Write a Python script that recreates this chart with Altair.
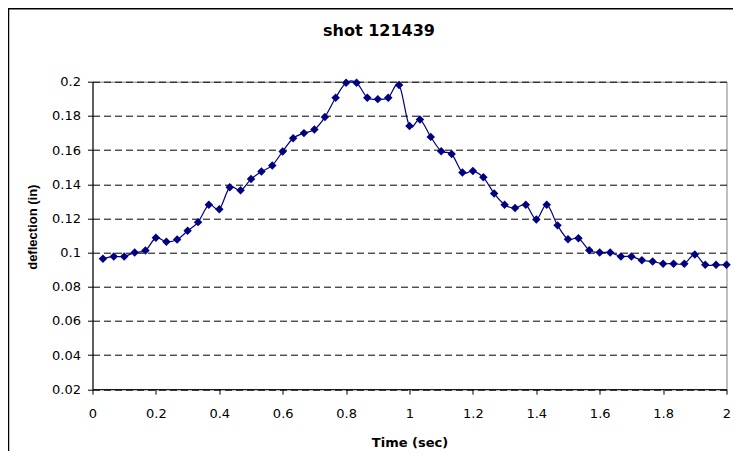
import altair as alt
import pandas as pd

TITLE = "shot 121439"
X_TITLE = "Time (sec)"
Y_TITLE = "deflection (in)"

time_s = [0.033, 0.067, 0.100, 0.133, 0.167, 0.200, 0.233, 0.267, 0.300, 0.333,
          0.367, 0.400, 0.433, 0.467, 0.500, 0.533, 0.567, 0.600, 0.633, 0.667,
          0.700, 0.733, 0.767, 0.800, 0.833, 0.867, 0.900, 0.933, 0.967, 1.000,
          1.033, 1.067, 1.100, 1.133, 1.167, 1.200, 1.233, 1.267, 1.300, 1.333,
          1.367, 1.400, 1.433, 1.467, 1.500, 1.533, 1.567, 1.600, 1.633, 1.667,
          1.700, 1.733, 1.767, 1.800, 1.833, 1.867, 1.900, 1.933, 1.967, 2.000]

deflection = [0.0963, 0.0977, 0.0977, 0.1000, 0.1012, 0.1086, 0.1063, 0.1076, 0.1127, 0.1178,
              0.1280, 0.1254, 0.1382, 0.1364, 0.1430, 0.1474, 0.1510, 0.1592, 0.1669, 0.1699,
              0.1720, 0.1793, 0.1906, 0.1994, 0.1994, 0.1906, 0.1898, 0.1906, 0.1981, 0.1740,
              0.1779, 0.1677, 0.1593, 0.1577, 0.1468, 0.1477, 0.1440, 0.1346, 0.1280, 0.1260,
              0.1280, 0.1194, 0.1280, 0.1159, 0.1078, 0.1084, 0.1014, 0.1000, 0.1000, 0.0977,
              0.0977, 0.0955, 0.0947, 0.0935, 0.0935, 0.0935, 0.0988, 0.0928, 0.0928, 0.0928]

x_ticks = [0, 0.2, 0.4, 0.6, 0.8, 1, 1.2, 1.4, 1.6, 1.8, 2]
y_ticks = [0.02, 0.04, 0.06, 0.08, 0.1, 0.12, 0.14, 0.16, 0.18, 0.2]

df = pd.DataFrame({"t": time_s, "d": deflection})

NAVY = "#000080"
W, H = 634, 307.5
PAD = {"left": 84.5, "top": 73.7, "right": 6.5, "bottom": 61.8}

x_enc = alt.X("t:Q", scale=alt.Scale(domain=[0, 2], nice=False, zero=False),
              axis=alt.Axis(values=x_ticks, tickCount=30, format="~g", grid=False, title=X_TITLE,
                            domainColor="black", tickColor="black", tickSize=5,
                            labelFont="DejaVu Sans", labelFontSize=13, labelColor="black",
                            labelBaseline="alphabetic", labelPadding=23.4,
                            labelFlush=False, labelOverlap=False,
                            titleFont="DejaVu Sans", titleFontSize=13, titleFontWeight="bold",
                            titleColor="black", titleBaseline="alphabetic",
                            titleX=317, titleY=57.4, titleAlign="center"))
y_enc = alt.Y("d:Q", scale=alt.Scale(domain=[0.02, 0.2], nice=False, zero=False),
              axis=alt.Axis(values=y_ticks, tickCount=30, format="~g", grid=True, gridColor="black",
                            gridDash=[7, 4], gridWidth=1, title=Y_TITLE,
                            domainColor="black", tickColor="black", tickSize=5,
                            labelFont="DejaVu Sans", labelFontSize=13, labelColor="black",
                            labelPadding=7, labelFlush=False, labelOverlap=False,
                            titleFont="Liberation Sans", titleFontSize=13, titleFontWeight="bold",
                            titleColor="black", titleAngle=270, titleBaseline="alphabetic",
                            titleX=-55.8, titleY=145, titleAlign="center"))

line = alt.Chart(df).mark_line(color=NAVY, strokeWidth=1.2, interpolate="cardinal").encode(
    x=x_enc, y=y_enc)
points = alt.Chart(df).mark_point(shape="diamond", filled=True, size=72, color=NAVY,
                                  opacity=1).encode(x="t:Q", y="d:Q")

one = alt.Data(values=[{"k": 1}])
frame_top = alt.Chart(one).mark_rule(color="black", strokeWidth=1.5).encode(
    x=alt.value(-84), x2=alt.value(W + PAD["right"] + 2), y=alt.value(-73))
frame_left = alt.Chart(one).mark_rule(color="black", strokeWidth=1.5).encode(
    x=alt.value(-84), y=alt.value(-74), y2=alt.value(H + PAD["bottom"] + 2))
title = alt.Chart(one).mark_text(text=TITLE, font="DejaVu Sans", fontSize=16, fontWeight="bold",
                                 color="black", align="center", baseline="alphabetic").encode(
    x=alt.value(286.5), y=alt.value(-45.7))

chart = alt.layer(frame_top, frame_left, line, points, title).properties(
    width=W, height=H, padding=PAD, autosize="none", background="white"
).configure_view(stroke="#808080", strokeWidth=1)

chart.save("out.html", embed_options={"renderer": "svg", "actions": False})
